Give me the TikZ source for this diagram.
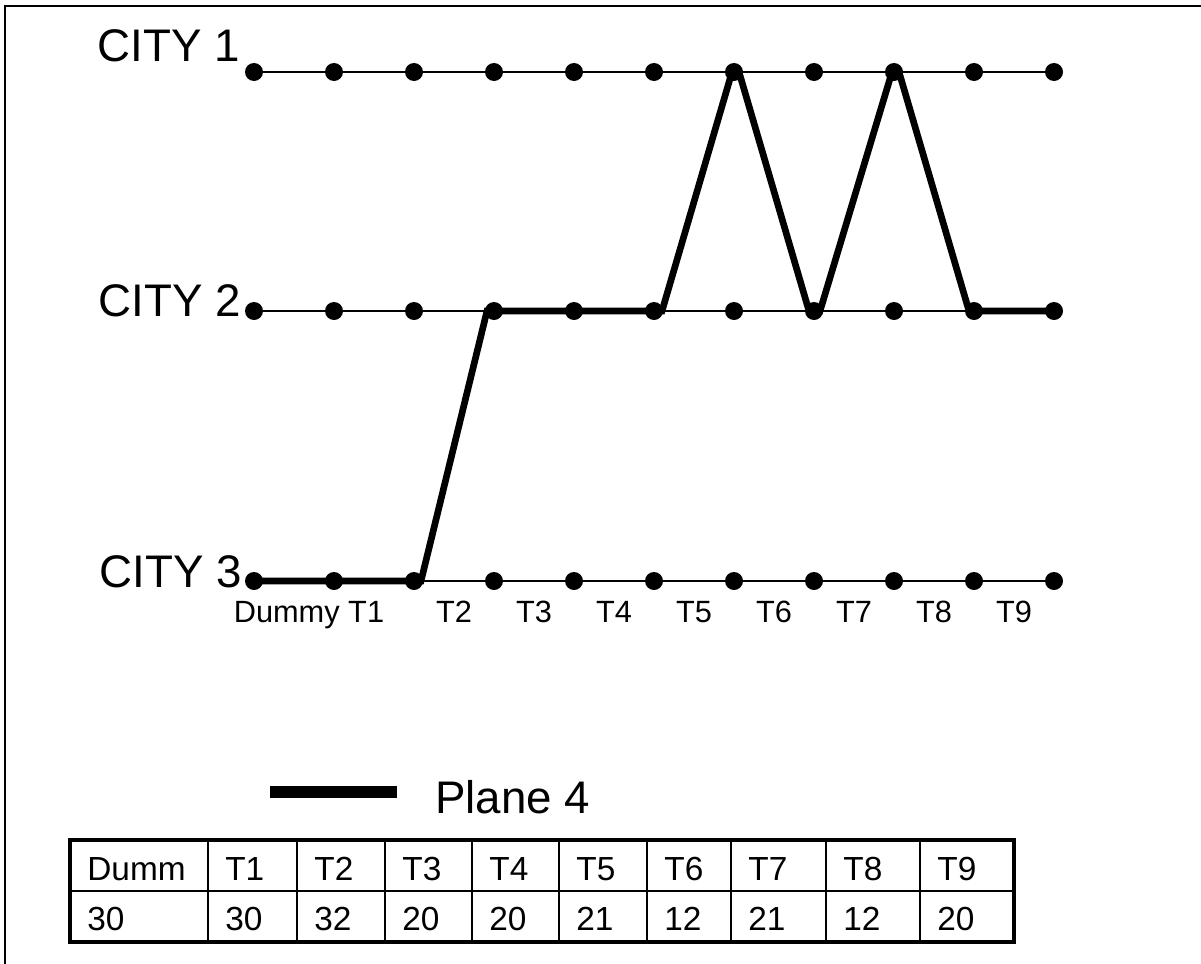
\documentclass[tikz,border=0pt]{standalone}
\usepackage{fontspec}
\setmainfont{Liberation Sans}
\usetikzlibrary{positioning}

\tikzset{
	point/.style={circle,fill=black,inner sep=0pt,minimum size=0.36cm},
	fin/.style={line width=1.1pt},
	avion/.style={line width=3.8pt},
	grand/.style={inner sep=0pt,font=\fontsize{26}{31}\selectfont},
	petit/.style={inner sep=0pt,font=\fontsize{17.5}{21}\selectfont},
	case/.style={inner sep=0pt,font=\fontsize{19}{23}\selectfont}
}

\begin{document}
\begin{tikzpicture}[x=0.02cm,y=-0.02cm]
	\useasboundingbox (0,0) rectangle (1201,964);
	% cadre
	\draw[line width=1.4pt] (5,964) -- (5,6) -- (1201,6);
	% les trois villes : points et lignes
	\foreach \v/\y in {1/72,2/311,3/581}{
		\foreach \i in {0,...,10}
			\node (C\v-\i) at (254+80*\i,\y) [point] {};
		\draw[fin] (C\v-0.center) -- (C\v-10.center);
	}
	\node (VILLE1) at (240,61) [anchor=base east,grand] {CITY 1};
	\node (VILLE2) at (241,316) [anchor=base east,grand] {CITY 2};
	\node (VILLE3) at (242,587) [anchor=base east,grand] {CITY 3};
	% les pas de temps
	\node (DUMMY) at (309,622) [anchor=base,petit] {Dummy T1};
	\foreach \t in {2,...,9}
		\node (T\t) at (294+80*\t,622) [anchor=base,petit] {T\t};
	% trajet de l'avion (les montees partent du bord des points)
	\draw[avion] (C3-0.center) -- (C3-2.center) -- ([xshift=0.14cm]C3-2.center)
		-- ([xshift=-0.14cm]C2-3.center) -- (C2-3.center) -- (C2-5.center)
		-- ([xshift=0.16cm]C2-5.center) -- ([xshift=-0.04cm]C1-6.center)
		-- ([xshift=0.1cm]C1-6.center) -- ([xshift=-0.1cm]C2-7.center)
		-- ([xshift=0.12cm]C2-7.center) -- ([xshift=-0.04cm]C1-8.center)
		-- ([xshift=0.1cm]C1-8.center) -- ([xshift=-0.1cm]C2-9.center)
		-- (C2-9.center) -- (C2-10.center);
	% legende
	\coordinate (LA) at (270,792);
	\coordinate (LB) at (397,792);
	\draw[line width=6.8pt] (LA) -- (LB);
	\node (PLANE) at (435,813) [anchor=base west,grand] {Plane 4};
	% tableau
	\draw[fin] (70,891) -- (1014,891);
	\foreach \x/\h/\v [count=\i] in {70/Dumm/30,208/T1/30,297/T2/32,385/T3/20,472/T4/20,559/T5/21,647/T6/12,731/T7/21,826/T8/12,920/T9/20}{
		\draw[fin] (\x,840) -- (\x,942);
		\node (H\i) at (\x+17,880) [anchor=base west,case] {\h};
		\node (V\i) at (\x+17,930) [anchor=base west,case] {\v};
	}
	\draw[line width=2.8pt] (70,840) rectangle (1014,942);
\end{tikzpicture}
\end{document}
